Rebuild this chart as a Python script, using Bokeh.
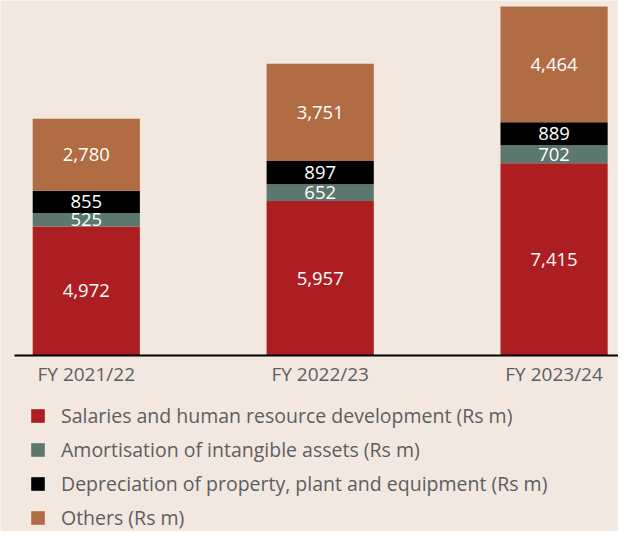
from bokeh.plotting import figure
from bokeh.models import ColumnDataSource, Legend, LegendItem, FixedTicker, Range1d
from bokeh.embed import file_html
from bokeh.resources import INLINE
from bokeh.core.properties import value

years = ["FY 2021/22", "FY 2022/23", "FY 2023/24"]
salaries = [4972, 5957, 7415]
amortisation = [525, 652, 702]
depreciation = [855, 897, 889]
others = [2780, 3751, 4464]

series_keys = ["salaries", "amortisation", "depreciation", "others"]
series_labels = [
    "Salaries and human resource development (Rs m)",
    "Amortisation of intangible assets (Rs m)",
    "Depreciation of property, plant and equipment (Rs m)",
    "Others (Rs m)",
]
colors = ["#AD1E23", "#5B776E", "#000000", "#B06C42"]

BG = "#F2E8E0"
FONT = "Open Sans"
TEXT_GREY = "#5E5E5E"

xpos = list(range(len(years)))
source = ColumnDataSource(dict(x=xpos, salaries=salaries, amortisation=amortisation,
                               depreciation=depreciation, others=others))

p = figure(width=618, height=531,
           x_range=Range1d(-0.3668, 2.2754), y_range=Range1d(-6806, 13704),
           y_axis_location=None, output_backend="svg", toolbar_location=None,
           min_border_left=0, min_border_right=0, min_border_top=0, min_border_bottom=0)
p.background_fill_color = BG
p.border_fill_color = BG
p.outline_line_color = None
p.xgrid.visible = False
p.ygrid.visible = False

renderers = p.vbar_stack(series_keys, x="x", width=0.4583, color=colors, source=source,
                         line_color=None)

# value labels centred in each segment
all_vals = [salaries, amortisation, depreciation, others]
lx, ly, lt = [], [], []
for i in range(len(years)):
    base = 0
    for vals in all_vals:
        v = vals[i]
        lx.append(xpos[i])
        ly.append(base + v / 2)
        lt.append(f"{v:,}")
        base += v
p.text(x=lx, y=ly, text=lt, text_align="center", text_baseline="middle",
       text_color="white", text_font=value(FONT), text_font_size="18.5px")

ax = p.xaxis[0]
ax.fixed_location = 0
ax.bounds = (-0.305, 2.3)
ax.ticker = FixedTicker(ticks=xpos)
ax.major_label_overrides = {i: y for i, y in zip(xpos, years)}
ax.axis_line_width = 2
ax.axis_line_color = "black"
ax.major_tick_line_color = None
ax.minor_tick_line_color = None
ax.major_label_standoff = 0
ax.major_label_text_font = FONT
ax.major_label_text_font_size = "19px"
ax.major_label_text_color = TEXT_GREY

legend = Legend(items=[LegendItem(label=l, renderers=[r]) for l, r in zip(series_labels, renderers)])
legend.location = (29, 0)
legend.orientation = "vertical"
legend.glyph_width = 17
legend.glyph_height = 17
legend.label_height = 26
legend.spacing = 7
legend.label_standoff = 15
legend.padding = 0
legend.margin = 0
legend.border_line_color = None
legend.background_fill_alpha = 0
legend.label_text_font = FONT
legend.label_text_font_size = "19.5px"
legend.label_text_color = TEXT_GREY
p.add_layout(legend)

open("out.html", "w").write(file_html(p, INLINE))
